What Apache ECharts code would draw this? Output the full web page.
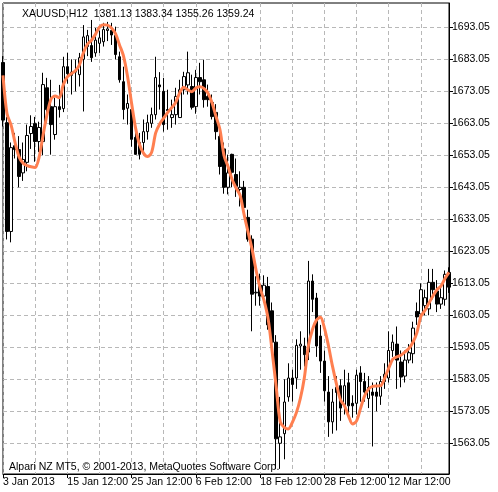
<!DOCTYPE html>
<html>
<head>
<meta charset="UTF-8">
<script src="https://cdn.jsdelivr.net/npm/echarts@6/dist/echarts.min.js"></script>
<style>
  html, body { margin: 0; padding: 0; background: #fff; }
  #main { width: 498px; height: 492px; }
</style>
</head>
<body>
<div id="main"></div>
<script>
// H12 bars: [open, close, low, high]
var ohlc = [
  [1682,1664,1662,1684],[1663.2,1629.2,1626.7,1665],[1629.2,1655.4,1625.8,1657],[1656,1654.8,1652,1660],
  [1654.8,1646.4,1643,1659],[1647.5,1651.7,1645,1657],[1650.8,1659.2,1648,1662.6],[1659.8,1662,1655,1665.5],
  [1662.9,1657.3,1651,1665],[1657.3,1661.7,1654,1663.5],[1657.3,1675.1,1653,1678.8],[1674.1,1667.3,1663.2,1677.2],
  [1668.2,1662.6,1653.2,1676.6],[1659.5,1668.2,1657.9,1671],[1668.2,1667.3,1664.8,1675],[1667.6,1680.7,1666.5,1683.8],
  [1680.7,1678.5,1675.4,1685],[1678,1679,1672,1683],[1679,1679.5,1673,1682.9],[1678.2,1683.5,1674.5,1685],
  [1683,1690,1666.7,1693.7],[1687,1690.4,1684,1692.2],[1687.3,1683.5,1682.2,1695.3],[1685,1689,1683.8,1692.8],
  [1688,1689.7,1685,1692],[1688.5,1692.3,1687,1694.4],[1692,1692.5,1688.7,1694.7],[1692,1690.6,1687.5,1694.4],
  [1690.5,1684.5,1683,1693.2],[1683.8,1676.6,1675.7,1685.4],[1676,1667.3,1664.2,1680.7],[1667.7,1669.2,1662.6,1672],
  [1667.3,1658,1655.7,1670.4],[1658.6,1653.3,1653.2,1662.6],[1657,1653.3,1651.7,1660],[1657,1660.4,1653.2,1664.2],
  [1660.4,1663.2,1657.9,1665.7],[1663,1665.7,1661.6,1667.9],[1665.7,1677.3,1664.2,1683.8],[1675,1674.4,1667.3,1679],
  [1673,1662.6,1660.4,1677.2],[1667.3,1667,1661,1673.5],[1664.8,1665.7,1661.6,1670.4],[1665.7,1671.4,1662.6,1674.1],
  [1664.8,1673.5,1664.8,1676.6],[1673.5,1677.6,1672,1679.1],[1675,1678.8,1672,1685.4],[1674.5,1668,1667.3,1678.2],
  [1668.2,1677.3,1666,1679.7],[1677.3,1676,1672,1681.9],[1676.6,1670.4,1667.9,1682.9],[1671.4,1670.4,1668.2,1675.1],
  [1669.5,1665.1,1664.2,1672],[1666.4,1660.4,1657.9,1669],[1658.9,1649.5,1647,1661],[1655,1643,1641,1657],
  [1643,1647.5,1640.8,1653.2],[1653.3,1647.7,1643,1653.5],[1647,1643.3,1640,1652],[1642.3,1643,1637,1648],
  [1643,1636.7,1634,1645],[1633.6,1626.8,1626,1636],[1626.8,1609.6,1598,1628],[1610,1610.2,1606,1615.2],
  [1612.4,1609,1606,1616],[1609,1612.4,1607,1615.5],[1612,1600,1598.5,1615],[1604.4,1594.6,1593,1607],
  [1594.6,1564.4,1555,1596.8],[1563,1565,1555,1577.5],[1566,1575.9,1558,1583],[1577.5,1583.4,1576,1588],
  [1583.4,1581.4,1576,1586],[1583.4,1593.6,1580,1595.5],[1593.4,1594,1586,1598],[1593.4,1590.7,1587,1596],
  [1591.5,1613.7,1589,1620],[1613.7,1608,1604,1615.8],[1608.4,1593.4,1590,1610],[1596.5,1588.7,1585,1600],
  [1588.7,1579.4,1576,1592],[1579,1569.7,1565,1584],[1569.7,1575.9,1566,1580],[1580.5,1578.9,1567,1584],
  [1581,1574,1570,1583],[1575,1581,1572,1586],[1581.9,1574.7,1571,1585],[1575.5,1574.7,1571,1578],
  [1575.5,1584.3,1572,1586],[1585,1582.3,1576,1587.1],[1582.3,1579,1576,1585],[1577,1580.5,1574,1584],
  [1579,1578,1562,1582],[1579,1577.7,1573,1582],[1577.7,1582.3,1575,1584],[1582.3,1584.6,1580,1588],
  [1583.4,1592,1582,1598],[1592,1594.6,1590,1597],[1594,1589,1580,1599.5],[1588.4,1583.7,1580.5,1592],
  [1584,1589,1582,1592],[1589,1591.3,1588,1594],[1591,1599,1588,1601],[1604.2,1602.5,1600,1607],
  [1603.4,1611,1601,1613],[1606,1608.5,1603,1611],[1605,1613.3,1603,1617.5],[1613.3,1611,1608,1617.5],
  [1610.6,1606.5,1604,1614],[1606.5,1608.5,1605,1612],[1608,1615.8,1606,1617],[1616.4,1611.8,1610,1618]
];

var ma = [
  1678,1666,1662.5,1657,1652.5,1650.5,1649.8,1649.4,1649.2,1652.5,1659.5,1666,1670.7,1671.5,1671,1675,
  1677.5,1678.5,1679.4,1681.2,1685,1687.7,1688.9,1690.8,1693,1693.8,1693.7,1692.8,1691,1687.5,1684,1677.6,
  1669.3,1661.5,1656.3,1653.6,1652.6,1654,1660,1662.8,1664.6,1666.4,1667.9,1669.6,1672.6,1674.3,1673.5,1672.9,
  1674,1674.4,1673.9,1672.5,1669.5,1665.2,1661,1653,1649.5,1645.5,1642.8,1640.5,1634.5,1629,1623.6,1617,
  1611.5,1607.5,1601.8,1591.5,1580.5,1569.7,1568,1567.5,1569.5,1572.5,1577,1583.5,1593.4,1598.5,1601.5,1602.4,
  1599,1593.5,1587.1,1581.5,1576.5,1574.7,1571.5,1569,1570,1574,1577.8,1580,1580.8,1580.9,1581,1583.4,
  1586.5,1589.3,1590,1590.5,1591.5,1592.6,1594.5,1597.5,1602.7,1604.5,1606.8,1609,1611,1612.1,1614.5,1616.4
];

var dateLabels = {0: '3 Jan 2013', 16: '15 Jan 12:00', 32: '25 Jan 12:00', 48: '6 Feb 12:00',
                  64: '18 Feb 12:00', 80: '28 Feb 12:00', 96: '12 Mar 12:00'};
var priceTicks = [1563.05, 1573.05, 1583.05, 1593.05, 1603.05, 1613.05, 1623.05,
                  1633.05, 1643.05, 1653.05, 1663.05, 1673.05, 1683.05, 1693.05];

var cats = ohlc.map(function (d, i) { return String(i); });
var font = 'Liberation Sans';

var chart = echarts.init(document.getElementById('main'));
chart.setOption({
  animation: false,
  backgroundColor: '#fff',
  grid: { left: 3, right: 49, top: 3, bottom: 18, show: true, borderColor: '#000', borderWidth: 1 },
  title: [
    { text: 'XAUUSD,H12  1381.13 1383.34 1355.26 1359.24', left: 17, top: 4,
      textStyle: { fontFamily: font, fontSize: 10.5, fontWeight: 'normal', color: '#000' } },
    { text: 'Alpari NZ MT5, \u00a9 2001-2013, MetaQuotes Software Corp.', left: 4, top: 457,
      textStyle: { fontFamily: font, fontSize: 10.5, fontWeight: 'normal', color: '#000' } }
  ],
  xAxis: {
    type: 'category', data: cats, boundaryGap: false,
    axisLine: { lineStyle: { color: '#000' } },
    axisTick: { interval: 15, length: 4, lineStyle: { color: '#000' } },
    axisLabel: { interval: 15, align: 'left', margin: 3, color: '#000', fontFamily: font, fontSize: 10.5,
      formatter: function (v, i) { return dateLabels[i] || ''; } },
    splitLine: { show: true, interval: 7, lineStyle: { color: '#b8b8b8', type: [4, 3] } }
  },
  yAxis: {
    type: 'value', position: 'right', min: 1553.4, max: 1700.6, scale: true,
    axisLine: { show: true, lineStyle: { color: '#000' } },
    axisTick: { show: true, length: 4, customValues: priceTicks, lineStyle: { color: '#000' } },
    axisLabel: { customValues: priceTicks, margin: 3, color: '#000', fontFamily: font, fontSize: 10.5,
      formatter: function (v) { return v.toFixed(2); } },
    splitLine: { show: true, lineStyle: { color: '#b8b8b8', type: [4, 3] } }
  },
  series: [
    {
      type: 'candlestick', data: ohlc, barWidth: 3,
      itemStyle: { color: '#fff', color0: '#000', borderColor: '#000', borderColor0: '#000', borderWidth: 1 }
    },
    {
      type: 'line', data: ma, symbol: 'none', smooth: 0.3,
      lineStyle: { color: '#ff7f50', width: 3 }, z: 3
    }
  ]
});
</script>
</body>
</html>
